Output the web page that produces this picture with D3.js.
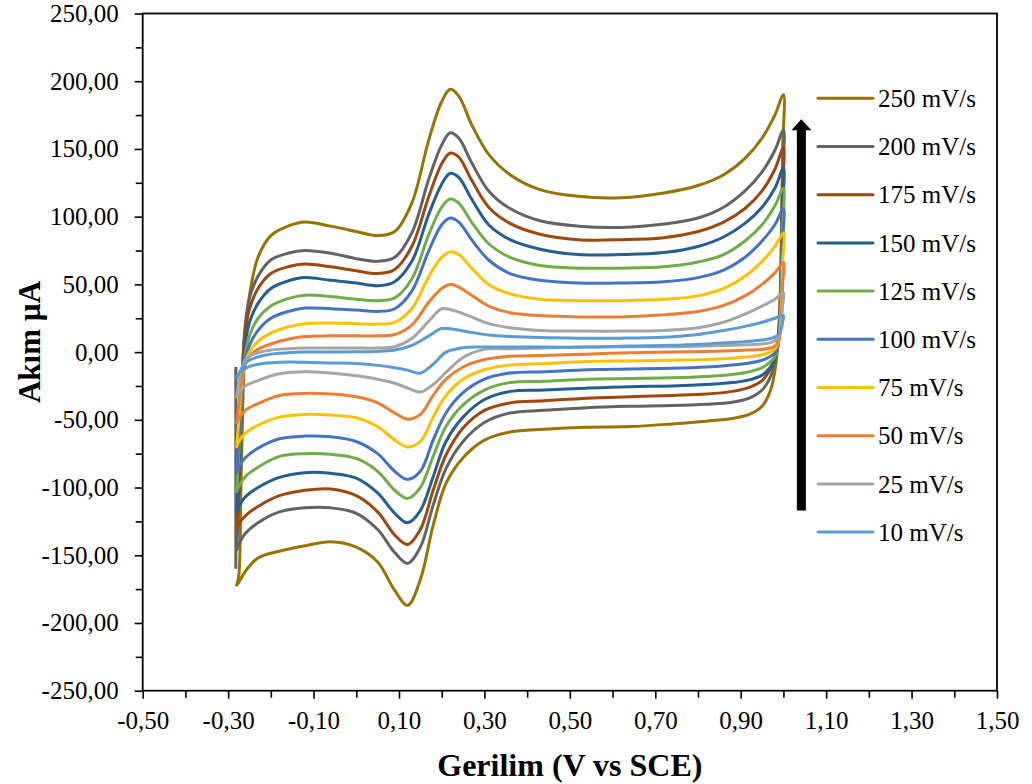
<!DOCTYPE html>
<html><head><meta charset="utf-8">
<script src="https://cdn.jsdelivr.net/npm/d3@7/dist/d3.min.js"></script>
<style>
html,body{margin:0;padding:0;background:#fff;}
svg text{font-family:"Liberation Serif","Times New Roman",serif;fill:#000;}
</style></head><body>
<svg id="chart" width="1032" height="784"></svg>
<script>
// ---------------- DATA ----------------
const scanRates = ["250 mV/s","200 mV/s","175 mV/s","150 mV/s","125 mV/s","100 mV/s","75 mV/s","50 mV/s","25 mV/s","10 mV/s"];

// potential (V vs SCE) for the anodic (forward) sweep
const potentialForward = [-0.28,-0.275,-0.27,-0.265,-0.26,-0.25,-0.23,-0.20,-0.16,-0.12,-0.06,0.00,0.05,0.09,0.13,0.17,0.20,0.22,0.24,0.27,0.31,0.36,0.43,0.52,0.62,0.72,0.80,0.86,0.91,0.95,0.98,1.00];
// potential for the cathodic (reverse) sweep
const potentialReverse = [1.00,0.998,0.995,0.99,0.982,0.97,0.95,0.92,0.88,0.82,0.74,0.64,0.54,0.44,0.36,0.30,0.25,0.21,0.18,0.15,0.12,0.09,0.05,0.00,-0.06,-0.12,-0.18,-0.23,-0.26,-0.275,-0.28];

// current (µA), forward sweep
const fwd250 = [-172,-165,-100,-30,10,42,70,86,93,96,93,89,86,89,110,157,185,194,189,168,146,131,120,115,114,117.5,123,131,143,158,175,190];
const fwd200 = [-146,-110,-55,-5,20,40,56,68,73,75,73,69,67,70,88,128,153,162,158,140,119,106,97,93,92,94.5,99,107,119,133,149,164];
const fwd175 = [-131,-100,-50,-5,15,32,47,58,63,65,63,60,58,61,78,115,139,147,144,127,107,95,87,83,83,84.5,89,96,106,119,135,151];
const fwd150 = [-118,-88,-45,-10,6,22,36,47,52.5,55,53,51,49,52,67,102,124,132,129,113,94,83,76,72,72,73.5,78,85,95,107,121,136];
const fwd125 = [-103,-75,-42,-14,-2,12,25,34,39.5,42,41,39,38,40,54,87,107,113,110,96,80,70,64,62,62,63,66.5,72,82,94,108,121];
const fwd100 = [-89,-65,-38,-16,-6,5,16,25,30,32.5,32,31,30,32,45,75,94,99,96,83,68,58,53,51,51,52,55,60.5,70,82,94,106];
const fwd75  = [-70,-50,-30,-16,-8,0,8,14,18.5,21,21.5,21,20.7,22,32,56,70,74,72,62,50,43,39,38,38,39,41.5,47,56,67,78,88];
const fwd50  = [-52,-38,-25,-15,-9,-3,2,6,9.5,11.5,12,12,12,13,20,37,47,50,48,42,34,29,27,26,26,27.5,30,34.5,41.5,50,58.5,66];
const fwd25  = [-33,-22,-14,-9,-6,-3,-0.5,1.5,2.5,3,3,3,3,4,10,23,32,31.5,29.5,26,21,18,16,15.5,15.5,16,18,22,28,34,39,44];
const fwd10  = [-19,-16,-13,-10.5,-8.5,-6,-3.5,-1.5,-0.5,0,0,0.3,0.5,1.5,5,12,17.5,17.2,16.3,14.5,12.6,11.5,10.7,10.3,10.3,11,13,16,19,22,25,27];

// current (µA), reverse sweep
const rev250 = [190,150,80,20,-10,-28,-40,-46,-49,-51,-53,-55,-55.5,-57,-59,-65,-78,-97,-128,-168,-187,-176,-155,-144,-140,-143,-147,-152,-162,-170,-172];
const rev200 = [164,130,70,20,-3,-18,-28,-34,-37,-38.5,-39.5,-40,-41,-43,-45,-52,-66,-86,-113,-144,-156,-148,-131,-119,-115,-115,-118,-126,-134,-142,-146];
const rev175 = [151,120,65,20,0,-12,-21,-26,-29,-31,-32,-33,-34,-36,-37.5,-43,-56,-76,-102,-131,-142,-135,-118,-106,-101,-102,-106,-114,-121,-127,-131];
const rev150 = [136,105,55,14,-3,-11,-17,-20.5,-22.5,-24,-25,-25.5,-26.6,-28,-29,-35,-48,-66,-92,-117,-126,-119,-104,-93,-89.5,-89,-92.5,-100,-107,-114,-118];
const rev125 = [121,92,48,12,-2,-7,-11.5,-14.5,-16.5,-18,-19,-19.5,-20,-21.5,-22.5,-28,-39,-55,-77,-100,-108,-102,-88,-78.5,-75.5,-75,-77,-85,-92,-99,-103];
const rev100 = [106,80,40,10,0,-3,-6,-8,-9.5,-11,-12,-12.5,-13,-14.5,-15.5,-20,-30,-45,-65,-88,-94,-88,-75,-66,-62.5,-62,-64,-71,-78,-85,-89];
const rev75  = [88,66,34,10,3,0,-2,-3.5,-4.5,-5.5,-6,-6.5,-7,-8.5,-9.5,-13,-20,-32,-48,-66,-70,-65,-55,-48.5,-46.5,-46,-48,-54,-60,-66,-70];
const rev50  = [66,50,26,10,5,3,2,1.5,1,0.5,0,-0.5,-1.5,-2.5,-3,-5.5,-11,-20,-32,-46,-49.5,-45,-37.5,-33,-31,-30.5,-32,-38,-43,-49,-52];
const rev25  = [44,34,22,13,9,7,6,5.5,5,4.5,4,4,3.7,3,2.5,2,-4,-15,-24,-29.5,-26.5,-23,-20,-17.5,-15.5,-14.6,-16,-21,-25,-30,-33];
const rev10  = [27,22,17,13.5,11.5,10,9,8,7,6,5,4.5,3.7,3.7,3.7,3.7,3.3,0,-9,-15.5,-13.3,-11.5,-9.8,-8.5,-8,-7.5,-7.5,-9,-12,-16,-19];

// initial switching transient recorded for the 200 mV/s scan
const start200E = [-0.282,-0.282];
const start200I = [-160,-11];

// axis ticks
const xTicks = [-0.5,-0.3,-0.1,0.1,0.3,0.5,0.7,0.9,1.1,1.3,1.5];
const xMinorTicks = [-0.4,-0.2,0.0,0.2,0.4,0.6,0.8,1.0,1.2,1.4];
const yTicks = [-250,-200,-150,-100,-50,0,50,100,150,200,250];
const yMinorTicks = [-225,-175,-125,-75,-25,25,75,125,175,225];

// trend arrow (increasing scan rate)
const arrowE = 1.042, arrowFromI = -117, arrowToI = 172;

const forwardSets = [fwd250,fwd200,fwd175,fwd150,fwd125,fwd100,fwd75,fwd50,fwd25,fwd10];
const reverseSets = [rev250,rev200,rev175,rev150,rev125,rev100,rev75,rev50,rev25,rev10];

// ---------------- STYLE ----------------
const colorOf = {
  "250 mV/s":"#997300","200 mV/s":"#636363","175 mV/s":"#9E480E","150 mV/s":"#255E91",
  "125 mV/s":"#70AD47","100 mV/s":"#4472C4","75 mV/s":"#FFC000","50 mV/s":"#ED7D31",
  "25 mV/s":"#A5A5A5","10 mV/s":"#5B9BD5"
};

// ---------------- DRAW ----------------
const M = {left:142.7, right:997, top:13.5, bottom:690.7};
const x = d3.scaleLinear().domain([-0.5,1.5]).range([M.left,M.right]);
const y = d3.scaleLinear().domain([-250,250]).range([M.bottom,M.top]);
const svg = d3.select("#chart");
const fmt = v => (v < -1e-9 ? "-" : "") + Math.abs(v).toFixed(2).replace(".", ",");

// curves
const line = d3.line().x(d=>x(d[0])).y(d=>y(d[1])).curve(d3.curveCatmullRom.alpha(0.5));
const curves = scanRates.map((name,i)=>{
  const pts = potentialForward.map((e,k)=>[e, forwardSets[i][k]])
    .concat(potentialReverse.slice(1).map((e,k)=>[e, reverseSets[i][k+1]]));
  return {name, pts};
});
const gC = svg.append("g");
gC.append("path")
  .attr("d", d3.line().x(d=>x(d[0])).y(d=>y(d[1]))(start200E.map((e,k)=>[e,start200I[k]])))
  .attr("fill","none").attr("stroke",colorOf["200 mV/s"]).attr("stroke-width",3);
gC.selectAll("path.cv").data(curves).join("path").attr("class","cv")
  .attr("d", d=>line(d.pts))
  .attr("fill","none")
  .attr("stroke", d=>colorOf[d.name])
  .attr("stroke-width",3)
  .attr("stroke-linejoin","round").attr("stroke-linecap","round");

// axes
const yAx = svg.append("g").attr("transform",`translate(${M.left},0)`)
  .call(d3.axisLeft(y).tickValues(yTicks).tickFormat(fmt).tickSize(8).tickSizeOuter(0).tickPadding(16));
const yMin = svg.append("g").attr("transform",`translate(${M.left},0)`)
  .call(d3.axisLeft(y).tickValues(yMinorTicks).tickFormat("").tickSize(7).tickSizeOuter(0));
const xAx = svg.append("g").attr("transform",`translate(0,${M.bottom})`)
  .call(d3.axisBottom(x).tickValues(xTicks).tickFormat(fmt).tickSize(8).tickSizeOuter(0).tickPadding(13));
const xMin = svg.append("g").attr("transform",`translate(0,${M.bottom})`)
  .call(d3.axisBottom(x).tickValues(xMinorTicks).tickFormat("").tickSize(7).tickSizeOuter(0));
[yAx,yMin,xAx,xMin].forEach(g=>{
  g.select(".domain").remove();
  g.selectAll(".tick line").attr("stroke","#000").attr("stroke-width",1.6);
  g.selectAll(".tick text").attr("font-size",25).attr("fill","#000")
    .attr("font-family",'"Liberation Serif","Times New Roman",serif');
});

// plot frame
svg.append("rect").attr("x",M.left).attr("y",M.top)
  .attr("width",M.right-M.left).attr("height",M.bottom-M.top)
  .attr("fill","none").attr("stroke","#000").attr("stroke-width",1.8);

// arrow
const ax = x(arrowE), ay0 = y(arrowFromI), ay1 = y(arrowToI);
svg.append("path")
  .attr("d",`M${ax-4.5},${ay0} L${ax-4.5},${ay1+11} L${ax-10},${ay1+11} L${ax},${ay1} L${ax+10},${ay1+11} L${ax+4.5},${ay1+11} L${ax+4.5},${ay0} Z`)
  .attr("fill","#000");

// legend
const lg = svg.append("g");
scanRates.forEach((name,i)=>{
  const cy = 98.3 + i*48.2;
  lg.append("line").attr("x1",818).attr("x2",873).attr("y1",cy).attr("y2",cy)
    .attr("stroke",colorOf[name]).attr("stroke-width",3).attr("stroke-linecap","round");
  lg.append("text").attr("x",878).attr("y",cy).attr("dy","0.35em")
    .attr("font-size",25).text(name);
});

// axis titles
svg.append("text").attr("x",(M.left+M.right)/2).attr("y",776)
  .attr("text-anchor","middle").attr("font-size",32).attr("font-weight","bold")
  .text("Gerilim (V vs SCE)");
svg.append("text").attr("transform",`translate(40,342) rotate(-90)`)
  .attr("text-anchor","middle").attr("font-size",31).attr("font-weight","bold")
  .text("Akım µA");
</script>
</body></html>
